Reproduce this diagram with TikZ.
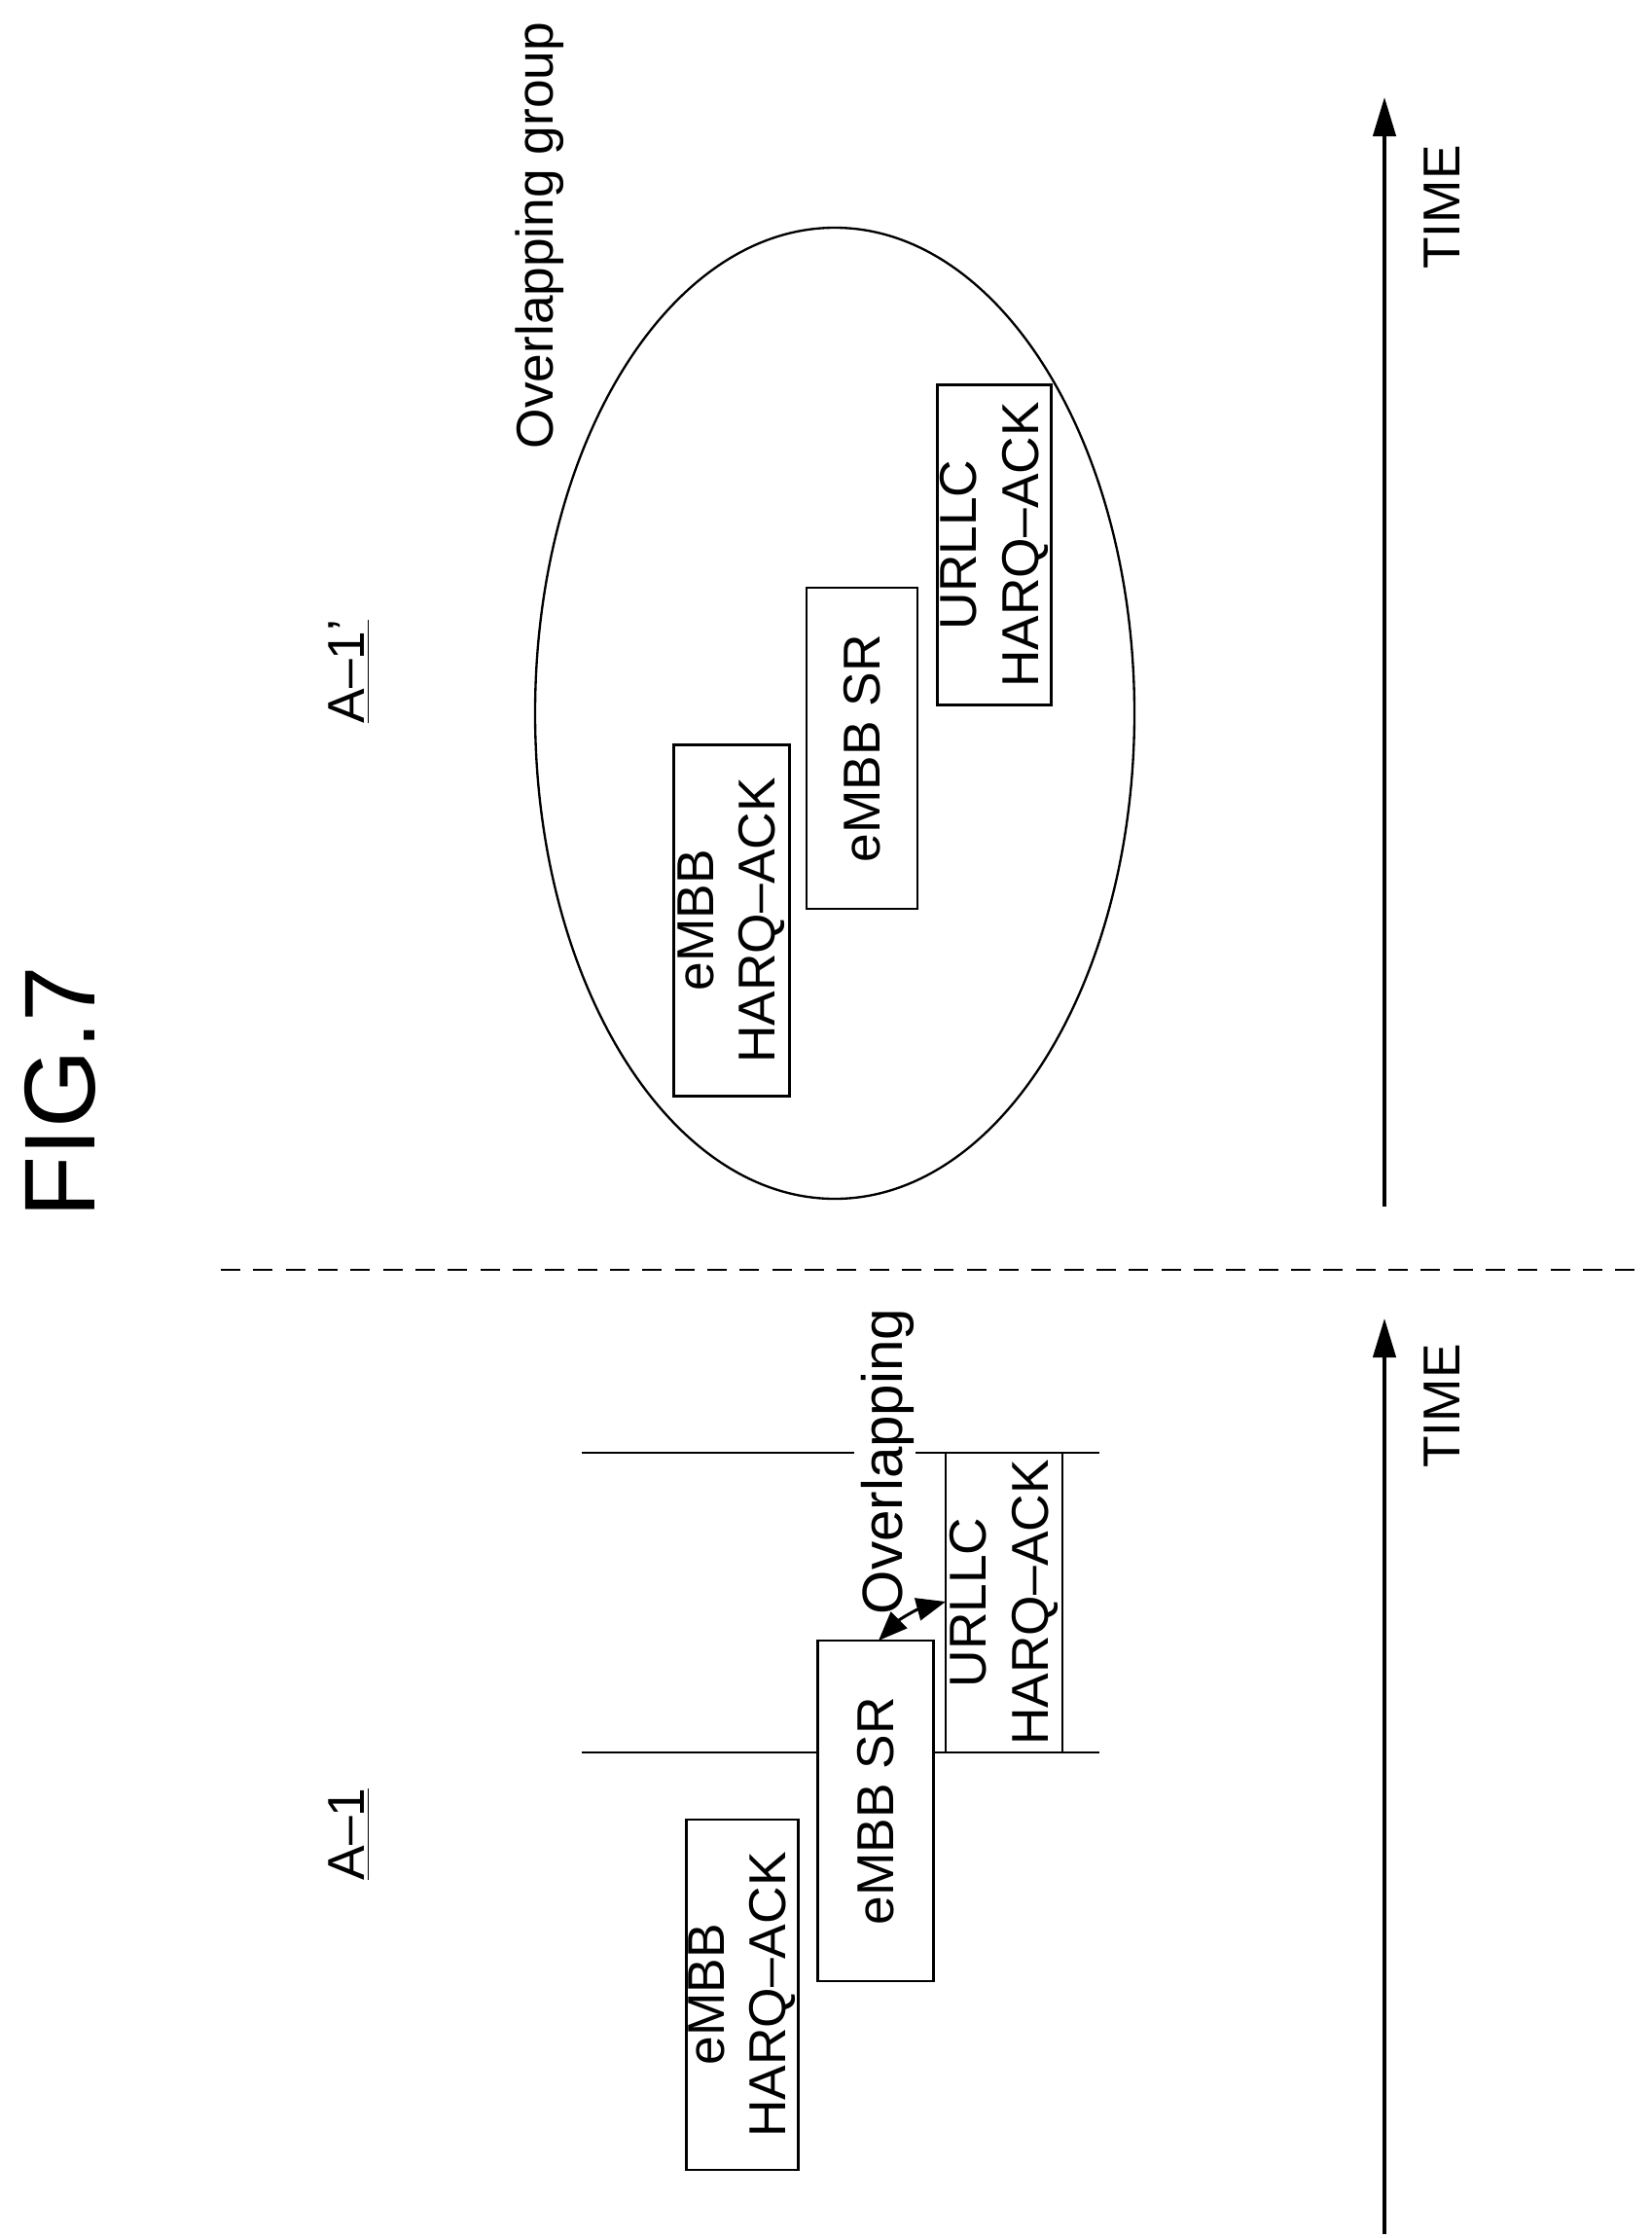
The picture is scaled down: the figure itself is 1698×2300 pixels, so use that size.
\documentclass[tikz,border=0pt]{standalone}
\usepackage{fontspec}
\setmainfont{Liberation Sans}
\usetikzlibrary{arrows.meta,calc,shapes.geometric}
\begin{document}
\begin{tikzpicture}[x=0.3pt,y=-0.3pt,
  lbl/.style={rotate=90,font=\fontsize{16}{19}\selectfont,align=center,inner sep=0pt},
  bx/.style={lbl,draw,fill=white,line width=0.8pt,inner sep=0pt},
  tline/.style={line width=1pt,-{Triangle[length=12pt,width=7pt]}},
  thin/.style={line width=0.7pt}]
\useasboundingbox (0,0) rectangle (1698,2300);
\node[rotate=90,font=\fontsize{31}{36}\selectfont] (fig) at (62,1122) {FIG.7};
\coordinate (dl) at (227,1305); \coordinate (dr) at (1680,1305);
\draw[line width=0.8pt,dash pattern=on 6pt off 4pt] (dl) -- (dr);
% top half
\coordinate (ta0) at (1423,1240); \coordinate (ta1) at (1423,100);
\draw[tline] (ta0) -- (ta1);
\node[lbl] (time1) at (1482,213) {TIME};
\node[draw,thin,ellipse,minimum width=616*0.3pt,minimum height=998*0.3pt,inner sep=0pt] (ell) at (858,733) {};
\node[lbl] (og) at (555,242) {Overlapping group};
\node[lbl] (a1p) at (359,690) {\underline{A–1’}};
\node[bx,minimum width=361*0.3pt,minimum height=119*0.3pt] (t1) at (752,946) {eMBB\\HARQ–ACK};
\node[bx,minimum width=330*0.3pt,minimum height=114*0.3pt] (t2) at (886,769) {eMBB SR};
\node[bx,minimum width=329*0.3pt,minimum height=117*0.3pt] (t3) at (1022,560) {URLLC\\HARQ–ACK};
% bottom half
\coordinate (ba0) at (1423,2296); \coordinate (ba1) at (1423,1355);
\draw[tline] (ba0) -- (ba1);
\node[lbl] (time2) at (1482,1445) {TIME};
\node[lbl] (a1) at (359,1885) {\underline{A–1}};
\coordinate (l1a) at (598,1493); \coordinate (l1b) at (878,1493);
\coordinate (l1c) at (941,1493); \coordinate (l1d) at (1130,1493);
\coordinate (l2a) at (598,1801); \coordinate (l2d) at (1130,1801);
\draw[thin] (l1a) -- (l1b) (l1c) -- (l1d);
\draw[thin] (l2a) -- (l2d);
\node[bx,minimum width=360*0.3pt,minimum height=115*0.3pt] (b1) at (763,2050) {eMBB\\HARQ–ACK};
\node[bx,minimum width=350*0.3pt,minimum height=119*0.3pt] (b2) at (900,1861) {eMBB SR};
\node[bx,minimum width=308*0.3pt,minimum height=120*0.3pt] (b3) at (1032,1647) {URLLC\\HARQ–ACK};
\node[lbl,font=\fontsize{17.5}{21}\selectfont] (ov) at (912,1502) {Overlapping};
\coordinate (p1) at (903,1686); \coordinate (p2) at (972,1646);
\draw[line width=0.9pt,{Triangle[length=9pt,width=7pt]}-{Triangle[length=9pt,width=7pt]}] (p1) to[bend left=15] (p2);
\end{tikzpicture}
\end{document}
